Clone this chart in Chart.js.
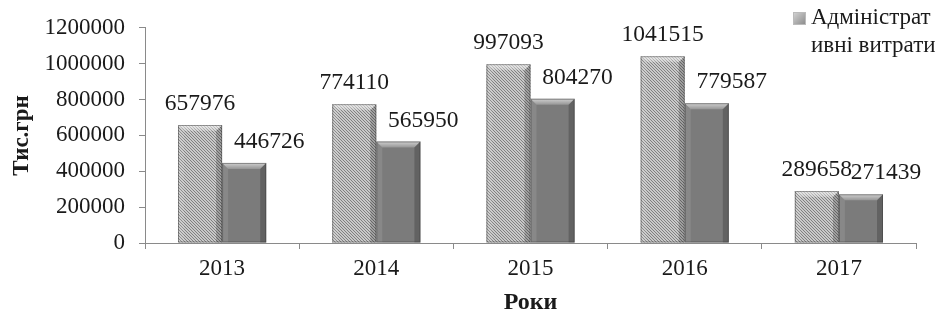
<!DOCTYPE html>
<html>
<head>
<meta charset="utf-8">
<script src="https://cdn.jsdelivr.net/npm/chart.js@4/dist/chart.umd.min.js"></script>
<style>
  html, body { margin: 0; padding: 0; background: #fff; }
  #wrap { position: relative; width: 940px; height: 314px; }
  #legend { position: absolute; left: 793px; top: 3px; font-family: "Liberation Serif", "Times New Roman", serif; font-size: 23px; line-height: 28px; color: #1a1a1a; }
  #legend .sw { position: absolute; left: 0; top: 9px; width: 13px; height: 13px; background: linear-gradient(135deg,#d0d0d0,#8e8e8e); border: 1px solid #bbb; box-sizing: border-box; }
  #legend .tx { margin-left: 18px; white-space: nowrap; }
</style>
</head>
<body>
<div id="wrap">
  <canvas id="c" width="940" height="314"></canvas>
  <div id="legend"><span class="sw"></span><div class="tx">Адміністрат<br>ивні витрати</div></div>
</div>
<script>
const years = ['2013', '2014', '2015', '2016', '2017'];
const adminCosts = [657976, 774110, 997093, 1041515, 289658];
const otherCosts = [446726, 565950, 804270, 779587, 271439];
const yTicks = [0, 200000, 400000, 600000, 800000, 1000000, 1200000];
const seriesNames = ['Адміністративні витрати', ''];

const FAMILY = '"Liberation Serif", "Times New Roman", serif';
const TEXT = '#1a1a1a';

function hatchPattern() {
  const p = document.createElement('canvas');
  p.width = 3; p.height = 3;
  const g = p.getContext('2d');
  g.fillStyle = '#c9c9c9';
  g.fillRect(0, 0, 3, 3);
  g.fillStyle = '#808080';
  for (let i = 0; i < 3; i++) g.fillRect(i, i, 1, 1);
  return document.getElementById('c').getContext('2d').createPattern(p, 'repeat');
}

const bevelPlugin = {
  id: 'bevel',
  afterDatasetsDraw(chart) {
    const ctx = chart.ctx;
    chart.data.datasets.forEach((ds, di) => {
      const meta = chart.getDatasetMeta(di);
      meta.data.forEach(bar => {
        const w = bar.width, x0 = bar.x - w / 2, x1 = bar.x + w / 2, y0 = bar.y, y1 = bar.base;
        const b = 6;
        ctx.save();
        ctx.beginPath();
        ctx.moveTo(x0, y0); ctx.lineTo(x1, y0); ctx.lineTo(x1 - b, y0 + b); ctx.lineTo(x0 + b, y0 + b); ctx.closePath();
        const gr = ctx.createLinearGradient(0, y0, 0, y0 + b);
        gr.addColorStop(0, 'rgba(255,255,255,0.65)');
        gr.addColorStop(1, 'rgba(255,255,255,0.2)');
        ctx.fillStyle = gr;
        ctx.fill();
        ctx.beginPath();
        ctx.moveTo(x0, y0); ctx.lineTo(x0 + b, y0 + b); ctx.lineTo(x0 + b, y1); ctx.lineTo(x0, y1); ctx.closePath();
        ctx.fillStyle = 'rgba(255,255,255,0.1)';
        ctx.fill();
        ctx.beginPath();
        ctx.moveTo(x1, y0); ctx.lineTo(x1 - b, y0 + b); ctx.lineTo(x1 - b, y1); ctx.lineTo(x1, y1); ctx.closePath();
        ctx.fillStyle = 'rgba(0,0,0,0.2)';
        ctx.fill();
        ctx.strokeStyle = 'rgba(60,60,60,0.5)';
        ctx.lineWidth = 1;
        ctx.strokeRect(x0 + 0.5, y0 + 0.5, w - 1, y1 - y0 - 1);
        ctx.restore();
      });
    });
  }
};

const labelPlugin = {
  id: 'valueLabels',
  afterDraw(chart) {
    const ctx = chart.ctx;
    ctx.save();
    ctx.font = '23.5px ' + FAMILY;
    ctx.fillStyle = TEXT;
    ctx.textAlign = 'center';
    ctx.textBaseline = 'alphabetic';
    chart.data.datasets.forEach((ds, di) => {
      const meta = chart.getDatasetMeta(di);
      meta.data.forEach((bar, i) => {
        const dx = di === 0 ? 0 : 25;
        ctx.fillText(String(ds.data[i]), bar.x + dx, bar.y - 15);
      });
    });
    ctx.restore();
  }
};

const ctx = document.getElementById('c');
new Chart(ctx, {
  type: 'bar',
  data: {
    labels: years,
    datasets: [
      { label: seriesNames[0], data: adminCosts, backgroundColor: hatchPattern(), borderWidth: 0 },
      { label: seriesNames[1], data: otherCosts, backgroundColor: '#7b7b7b', borderWidth: 0 }
    ]
  },
  options: {
    responsive: false,
    animation: false,
    events: [],
    layout: { padding: { top: 26, right: 24, left: 0, bottom: 0 } },
    plugins: { legend: { display: false }, tooltip: { enabled: false } },
    datasets: { bar: { categoryPercentage: 0.572, barPercentage: 1.0 } },
    scales: {
      x: {
        grid: { drawOnChartArea: false, offset: true, tickLength: 6, color: '#8a8a8a' },
        border: { color: '#8a8a8a', width: 1 },
        ticks: { color: TEXT, font: { family: FAMILY, size: 23 }, padding: 6, maxRotation: 0 },
        title: { display: true, text: 'Роки', color: TEXT, font: { family: FAMILY, size: 24, weight: 'bold', lineHeight: 1 }, padding: { top: 0, bottom: -1 } },
        afterFit(scale) { scale.height = 71; }
      },
      y: {
        min: 0, max: 1200000,
        afterBuildTicks(scale) { scale.ticks = yTicks.map(v => ({ value: v })); },
        grid: { drawOnChartArea: false, tickLength: 6, color: '#8a8a8a' },
        border: { color: '#8a8a8a', width: 1 },
        ticks: { color: TEXT, font: { family: FAMILY, size: 23 }, padding: 14, callback: v => String(v) },
        title: { display: true, text: 'Тис.грн', color: TEXT, font: { family: FAMILY, size: 23, weight: 'bold', lineHeight: 1 }, padding: { top: 11, bottom: 0 } },
        afterFit(scale) { scale.width = 145; }
      }
    }
  },
  plugins: [bevelPlugin, labelPlugin]
});
</script>
</body>
</html>
